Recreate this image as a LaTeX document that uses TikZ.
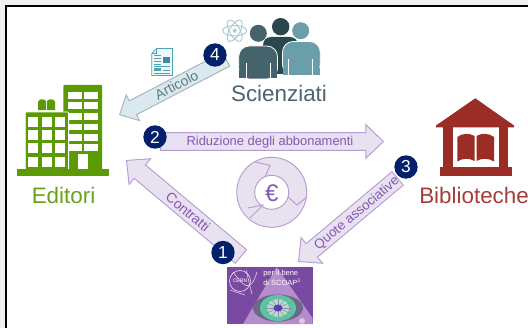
\documentclass[tikz,border=0pt]{standalone}
\usepackage{fontspec}
\setmainfont{Liberation Sans}
\usetikzlibrary{shapes.arrows,calc}
\definecolor{arrfill}{HTML}{E8E1F0}
\definecolor{arrline}{HTML}{B79BD3}
\definecolor{arrtext}{HTML}{8458B4}
\definecolor{artfill}{HTML}{D9E9EF}
\definecolor{artline}{HTML}{A5B3B9}
\definecolor{arttext}{HTML}{5F7B86}
\definecolor{navy}{HTML}{03206B}
\definecolor{edit}{HTML}{5B9A05}
\definecolor{edittext}{HTML}{66A318}
\definecolor{lib}{HTML}{9B2D27}
\definecolor{libtext}{HTML}{A53D38}
\definecolor{sci1}{HTML}{44636A}
\definecolor{sci2}{HTML}{2A474D}
\definecolor{sci3}{HTML}{6A9FA9}
\definecolor{scitext}{HTML}{4A666E}
\definecolor{atom}{HTML}{A9CBD3}
\definecolor{docline}{HTML}{4FA3B5}
\definecolor{scoap}{HTML}{7A4AA2}
\definecolor{scoaplight}{HTML}{B58DCC}
\definecolor{eyering}{HTML}{6A6A86}
\definecolor{eyegreen}{HTML}{5CC4A0}
\definecolor{eyepale}{HTML}{A8E4C4}
\tikzset{
  blockarrow/.style={single arrow,inner sep=0pt,line width=.7pt,single arrow tip angle=88},
  purplearrow/.style={blockarrow,draw=arrline,fill=arrfill,text height=12.5pt,text depth=0pt,minimum width=24.5pt,single arrow head extend=6pt},
  bluearrow/.style={blockarrow,draw=artline,fill=artfill,text height=11pt,text depth=0pt,minimum width=21pt,single arrow head extend=5pt},
  arrlabel/.style={text=arrtext,font=\fontsize{10}{12}\selectfont,inner sep=0pt},
  shortlabel/.style={arrlabel,font=\fontsize{10.5}{12}\selectfont},
  badge/.style={circle,fill=navy,text=white,minimum size=17.5pt,inner sep=0pt,font=\fontsize{13}{15}\selectfont},
  biglabel/.style={font=\fontsize{16.8}{20}\selectfont,inner sep=0pt},
  white edge/.style={draw=white,line width=.6pt},
  thinwhite/.style={draw=white,line width=.5pt}
}
\begin{document}
\begin{tikzpicture}[x=0.75pt,y=-0.75pt]
\useasboundingbox (0,0) rectangle (528,328);
\fill[black!6] (0,0) rectangle (528,328);
\fill[white] (6,6) rectangle (528,328);
\draw[black,line width=1.5pt] (6.3,328) -- (6.3,6.3) -- (528,6.3);

% Editori building
\fill[edit,rounded corners=.6pt] (63.3,85) rectangle (102,170);
\foreach \y in {92.3,102.3,113,123.7,134.3,144.3}{
  \fill[white] (67.7,\y) rectangle ++(14,6.7);
  \fill[white] (84,\y) rectangle ++(14,6.7);
}
\fill[white] (78.3,154.3) rectangle (87.7,169);
\fill[edit] (38,110) -- (38,102) .. controls (39,98.5) and (44,98.5) .. (46,101) -- (46,110) -- cycle;
\fill[edit] (47,110) -- (47,101) .. controls (49,98.5) and (54,98.5) .. (55,102) -- (55,110) -- cycle;
\fill[edit,rounded corners=.6pt,white edge] (25.3,170) -- (25.3,112) -- (68.6,112) -- (68.6,170) -- cycle;
\foreach \y in {116.7,130,143.3,156.7}{
  \foreach \x in {28.3,41.7,55}{
    \fill[white] (\x,\y) rectangle ++(10,10);
  }
}
\fill[edit] (17.3,169) rectangle (109.3,175.7);
\node[biglabel,text=edittext] (editori) at (63.5,195) {Editori};

% Scientists
\fill[sci2] (280.7,26.7) circle (8.7);
\fill[sci2,rounded corners=6pt] (263,74) -- (263,37) -- (298,37) -- (298,74) -- cycle;
\fill[sci1] (258.3,33.3) circle (8.5);
\fill[sci1,white edge,rounded corners=8pt] (238.7,79) -- (238.7,46) -- (277.5,46) -- (277.5,79) -- cycle;
\fill[sci1] (238.9,70) rectangle (277.3,78.5);
\fill[sci3] (300.7,30.7) circle (8.5);
\fill[sci3,white edge,rounded corners=8pt] (282.5,75.5) -- (282.5,41.5) -- (320.3,41.5) -- (320.3,75.5) -- cycle;
\fill[sci3] (282.8,68) rectangle (320,75.2);
\draw[thinwhite] (246.7,63) -- (246.7,78.5) (270,63) -- (270,78.5);
\draw[thinwhite] (288.7,59) -- (288.7,75.2) (312,59) -- (312,75.2);
\node[biglabel,text=scitext] (scienziati) at (279,93) {Scienziati};

% atom
\foreach \a in {0,60,120}{
  \draw[atom,line width=.7pt,rotate around={\a:(234.7,30.7)}] (234.7,30.7) ellipse (12 and 5.2);
}
\fill[atom] (234.7,30.7) circle (2);

% document icon
\fill[white!92!docline] (156.5,48.6) -- (172.5,48.6) -- (172.5,75.5) -- (151.8,75.5) -- (151.8,53.5) -- cycle;
\draw[docline,line width=.6pt] (156.5,48.6) -- (172.5,48.6) -- (172.5,75.5) -- (151.8,75.5) -- (151.8,53.5) -- cycle;
\draw[docline,line width=.6pt] (156.5,48.6) -- (156.5,53.5) -- (151.8,53.5);
\fill[docline!85!black] (162.7,56.7) rectangle (170,63.3);
\foreach \y in {55,58,61,64}{ \draw[docline,line width=.5pt] (154,\y) -- (161,\y); }
\foreach \y in {66,73}{ \draw[docline,line width=.5pt] (154,\y) -- (170,\y); }
\fill[docline] (154,68.5) rectangle (161,71.5);
\draw[docline,line width=.5pt] (163,70) -- (170,70);

% Library
\fill[lib] (475.3,98.3) -- (514,125.5) -- (514,127.3) -- (436,127.3) -- (436,125.5) -- cycle;
\fill[lib] (443.3,127) rectangle (452.7,170);
\fill[lib] (499,127) rectangle (508.3,170);
\fill[lib] (440,167.3) rectangle (511.7,175.7);
\fill[lib] (457.3,137) .. controls (462,133) and (470,133) .. (474.5,136) -- (474.5,161) .. controls (470,158) and (462,158) .. (457.3,161.5) -- cycle;
\fill[lib] (476.5,136) .. controls (481,133) and (489,133) .. (494,137) -- (494,161.5) .. controls (489,158) and (481,158) .. (476.5,161) -- cycle;
\node[biglabel,text=libtext,anchor=west] (biblioteche) at (419,195) {Biblioteche};

% Cycle
\fill[arrfill,draw=arrline,line width=.7pt,even odd rule] (271.7,192.3) circle (35) (271.7,192.3) circle (17);
\draw[arrline,line width=.7pt] (255,162) -- (270,165.5) -- (265,177);
\draw[arrline,line width=.7pt] (307,197) -- (297,205) -- (288,197);
\draw[arrline,line width=.7pt] (248,208) -- (263,205) -- (250,218);
\node[text=arrtext,font=\fontsize{18}{20}\selectfont,inner sep=0pt] (euro) at (271.7,193) {€};

% Block arrows
\coordinate (tip4) at (119,115);
\coordinate (tip2) at (384,141.5);
\coordinate (tip1) at (126,160);
\coordinate (tip3) at (298,262);
\node[bluearrow,shape border rotate=180,anchor=tip,rotate=27.5,minimum height=90pt] (a4) at (tip4) {};
\node[purplearrow,anchor=tip,minimum height=167pt] (a2) at (tip2) {};
\node[purplearrow,shape border rotate=180,anchor=tip,rotate=-40,minimum height=112pt] (a1) at (tip1) {};
\node[purplearrow,shape border rotate=180,anchor=tip,rotate=40,minimum height=97pt] (a3) at (tip3) {};
\node[shortlabel,text=arttext,rotate=27.5] (l4) at (176.5,85) {Articolo};
\node[arrlabel,font=\fontsize{9.7}{12}\selectfont] (l2) at (270,142) {Riduzione degli abbonamenti};
\node[shortlabel,rotate=-40] (l1) at (188,212) {Contratti};
\node[arrlabel,rotate=40] (l3) at (357,213.5) {Quote associative};
\node[badge] (b4) at (215,55) {4};
\node[badge] (b2) at (155,137) {2};
\node[badge] (b1) at (223,252.5) {1};
\node[badge] (b3) at (406,167) {3};

% SCOAP picture
\fill[scoap] (227,267) rectangle (312.5,324);
\fill[scoaplight] (276.7,267) -- (312.5,318) -- (312.5,324) -- (243,324) -- cycle;
\fill[eyering] (278,308) ellipse (25 and 13.5);
\fill[eyegreen] (278,308) ellipse (18 and 13);
\fill[eyepale] (278,308) ellipse (11 and 9);
\foreach \a in {0,30,...,330}{
  \draw[scoap!70!white,line width=.4pt] (278,308) -- ++(\a:13 and 10);
}
\fill[scoap!80!blue] (278,308) ellipse (4.5 and 3.5);
\fill[scoaplight!50!white] (302,321) circle (3);
\draw[white!80!scoap,line width=.5pt] (240,281) circle (10.5);
\draw[white!80!scoap,line width=.4pt] (233,272) .. controls (243,285) and (250,295) .. (257,272);
\draw[white!80!scoap,line width=.4pt] (246,270) -- (252,294) (230,290) -- (245,295);
\node[text=white,font=\fontsize{3.8}{4}\selectfont,inner sep=0pt] (cern) at (240,281) {CERN};
\node[text=white,font=\fontsize{5.6}{7}\selectfont,inner sep=0pt,anchor=west] (s1) at (263,274) {per il bene};
\node[text=white,font=\fontsize{5.6}{7}\selectfont,inner sep=0pt,anchor=west] (s2) at (263,282) {di SCOAP\textsuperscript{3}};
\end{tikzpicture}
\end{document}
